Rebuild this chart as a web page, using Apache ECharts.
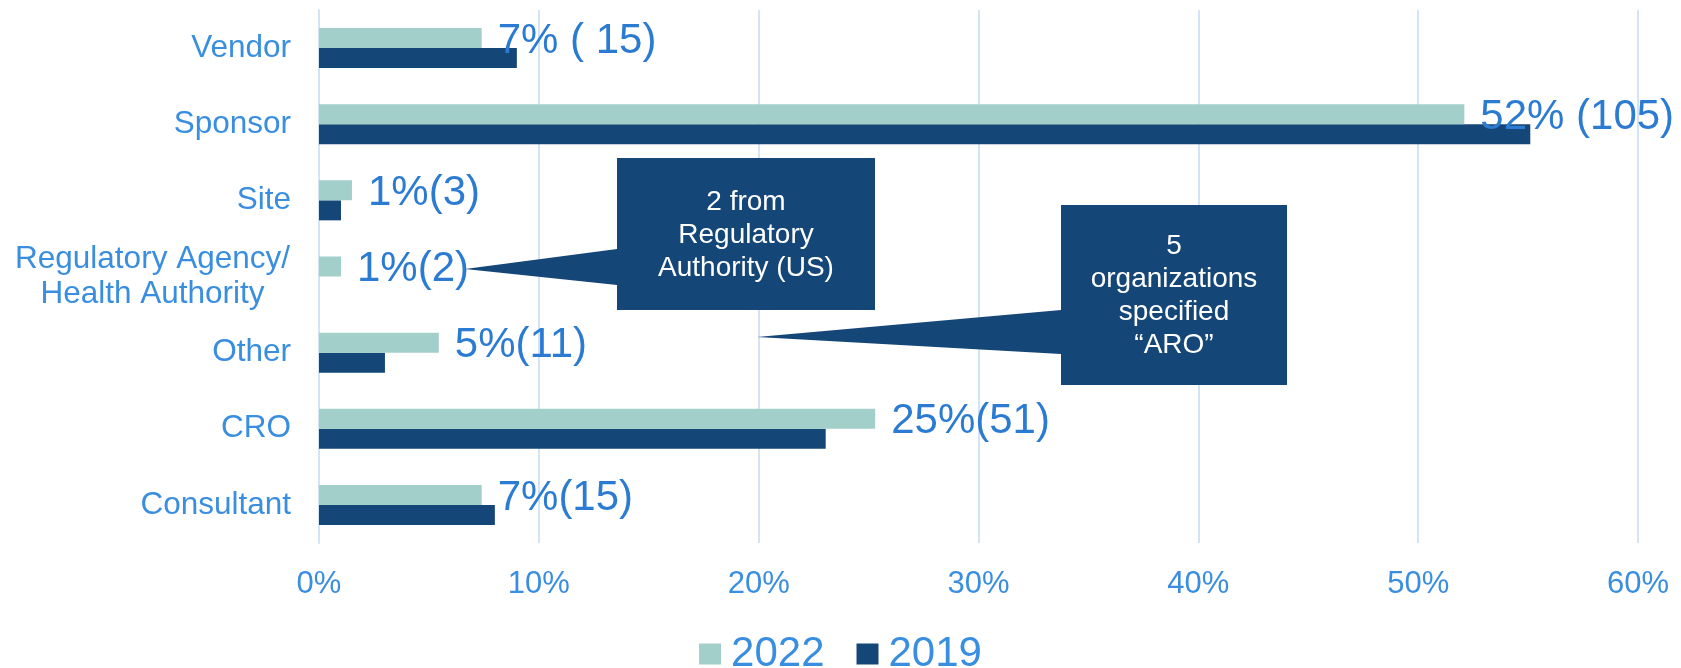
<!DOCTYPE html>
<html>
<head>
<meta charset="utf-8">
<title>Organization type</title>
<script src="https://cdn.jsdelivr.net/npm/echarts@6/dist/echarts.min.js"></script>
<style>
  html, body { margin: 0; padding: 0; background: #fff; }
  #chart { width: 1681px; height: 668px; }
</style>
</head>
<body>
<div id="chart"></div>
<script>
// categories top to bottom
const categories = ['Vendor', 'Sponsor', 'Site', 'Regulatory Agency/\nHealth Authority', 'Other', 'CRO', 'Consultant']
const values2022 = [7.4, 52.1, 1.5, 1.0, 5.45, 25.3, 7.4]
const values2019 = [9.0, 55.1, 1.0, 0, 3.0, 23.05, 8.0]
const labels2022 = ['7% ( 15)', '52% (105)', '1%(3)', '1%(2)', '5%(11)', '25%(51)', '7%(15)']
const xTicks = [0, 10, 20, 30, 40, 50, 60]

const FONT = '"Liberation Sans", Arial, sans-serif'
const axisBlue = '#3a8ee0'
const labelBlue = '#2b7bd3'
const navy = '#154678'

const chart = echarts.init(document.getElementById('chart'))

// callout boxes with pointer (annotation shapes, pixel placed)
function callout(box, tip, base, text) {
  return {
    type: 'group',
    children: [
      { type: 'polygon', z: 100, shape: { points: [[box.x, base[0]], tip, [box.x, base[1]]] }, style: { fill: navy } },
      { type: 'rect', z: 100, shape: { x: box.x, y: box.y, width: box.w, height: box.h }, style: { fill: navy } },
      {
        type: 'text', z: 101,
        x: box.x + box.w / 2,
        y: box.y + box.h / 2 + 1,
        style: {
          text: text, fill: '#fff', font: '28px ' + FONT,
          align: 'center', verticalAlign: 'middle', lineHeight: 33
        }
      }
    ]
  }
}

chart.setOption({
  backgroundColor: '#fff',
  animation: false,
  grid: { left: 319, right: 43, top: 10, bottom: 125 },
  legend: {
    data: ['2022', '2019'],
    top: 628, left: 'center',
    icon: 'rect', itemWidth: 22, itemHeight: 21, itemGap: 32,
    textStyle: { color: axisBlue, fontSize: 42, fontFamily: FONT, padding: [0, 0, 0, 5] }
  },
  xAxis: {
    type: 'value', min: xTicks[0], max: xTicks[xTicks.length - 1], interval: 10,
    axisLine: { show: false },
    axisTick: { show: false },
    axisLabel: { color: axisBlue, fontSize: 31, fontFamily: FONT, margin: 26, formatter: '{value}%' },
    splitLine: { lineStyle: { color: '#d3e4f6', width: 2 } }
  },
  yAxis: {
    type: 'category', data: categories, inverse: true,
    axisLine: { show: true, lineStyle: { color: '#d3e4f6', width: 2 } },
    axisTick: { show: false },
    axisLabel: {
      color: axisBlue, fontSize: 31.5, fontFamily: FONT, margin: 28,
      formatter: v => v.includes('\n') ? v.split('\n').map(s => '{c|' + s + '}').join('\n') : v,
      rich: { c: { width: 277, align: 'center', fontSize: 31.5, lineHeight: 35, color: axisBlue, fontFamily: FONT } }
    }
  },
  series: [
    {
      name: '2022', type: 'bar', data: values2022, barWidth: 20, barGap: '0%',
      itemStyle: { color: '#a3cfca' },
      label: {
        show: true, position: 'right', distance: 16, offset: [0, 3],
        color: labelBlue, fontSize: 42, fontFamily: FONT,
        formatter: p => labels2022[p.dataIndex]
      },
      z: 3
    },
    {
      name: '2019', type: 'bar', data: values2019, barWidth: 20,
      itemStyle: { color: navy },
      z: 2
    }
  ],
  graphic: [
    callout({ x: 617, y: 158, w: 258, h: 152 }, [465, 269], [249, 285], '2 from\nRegulatory\nAuthority (US)'),
    callout({ x: 1061, y: 205, w: 226, h: 180 }, [757, 337], [310, 354], '5\norganizations\nspecified\n“ARO”')
  ]
})
</script>
</body>
</html>
